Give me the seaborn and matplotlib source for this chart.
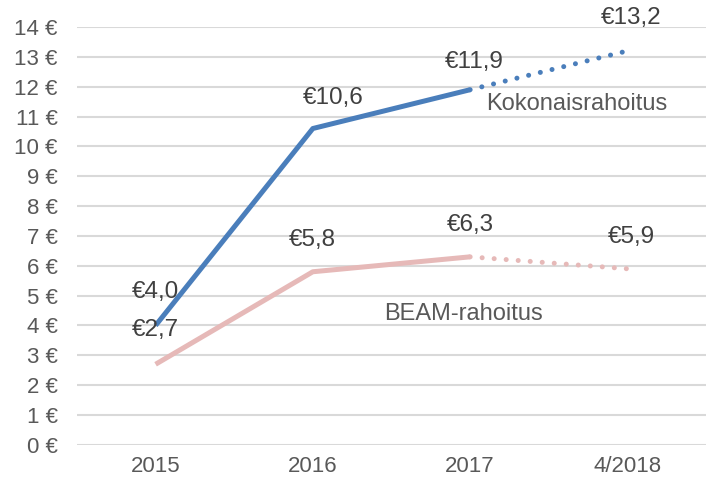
import matplotlib
matplotlib.use("Agg")
import matplotlib.pyplot as plt
import seaborn as sns
import pandas as pd

years = ["2015", "2016", "2017", "4/2018"]
total = [4.0, 10.6, 11.9, 13.2]
beam = [2.7, 5.8, 6.3, 5.9]
total_label = "Kokonaisrahoitus"
beam_label = "BEAM-rahoitus"
yticks = list(range(0, 15))

blue = "#4a7ebb"
pink = "#e6b9b8"
grey = "#595959"

sns.set_theme(style="white")
plt.rcParams["font.family"] = ["Liberation Sans", "DejaVu Sans"]

df = pd.DataFrame({"year": years, "total": total, "beam": beam})

fig = plt.figure(figsize=(7.06, 4.83), dpi=100)
ax = fig.add_axes([0.109, 0.079, 0.891, 0.865])

# solid part (actual) and dotted part (forecast)
sns.lineplot(data=df.iloc[:3], x="year", y="total", ax=ax, color=blue, lw=3.6,
             solid_capstyle="butt", sort=False)
sns.lineplot(data=df.iloc[:3], x="year", y="beam", ax=ax, color=pink, lw=3.6,
             solid_capstyle="butt", sort=False)
sns.lineplot(data=df.iloc[2:], x="year", y="total", ax=ax, color=blue, lw=3.6,
             linestyle=(0, (0.01, 2.4)), dash_capstyle="round", sort=False)
sns.lineplot(data=df.iloc[2:], x="year", y="beam", ax=ax, color=pink, lw=3.6,
             linestyle=(0, (0.01, 2.4)), dash_capstyle="round", sort=False)

# data labels
total_off = [(0, 33), (20, 31), (4, 28), (4, 33)]
beam_off = [(0, 34), (0, 32), (0, 32), (4, 32)]
for i, (t, b) in enumerate(zip(total, beam)):
    ax.annotate("€" + f"{t:.1f}".replace(".", ","), (i, t), xytext=total_off[i],
                textcoords="offset pixels", ha="center", va="center",
                fontsize=17.5, color="#404040")
    ax.annotate("€" + f"{b:.1f}".replace(".", ","), (i, b), xytext=beam_off[i],
                textcoords="offset pixels", ha="center", va="center",
                fontsize=17.5, color="#404040")

ax.text(2.68, 11.42, total_label, ha="center", va="center", fontsize=17, color=grey)
ax.text(1.96, 4.39, beam_label, ha="center", va="center", fontsize=17, color=grey)

ax.set_xlim(-0.5, 3.5)
ax.set_ylim(0, 14)
ax.set_yticks(yticks)
ax.set_yticklabels([f"{v} €" for v in yticks])
ax.set_xlabel("")
ax.set_ylabel("")
ax.tick_params(axis="both", labelsize=16, colors=grey, length=0)
ax.tick_params(axis="y", pad=14)
ax.tick_params(axis="x", pad=8)
ax.yaxis.grid(True, color="#d9d9d9", lw=1.5)
ax.xaxis.grid(False)
ax.set_axisbelow(True)
for s in ax.spines.values():
    s.set_visible(False)

fig.savefig("out.png", dpi=100)
